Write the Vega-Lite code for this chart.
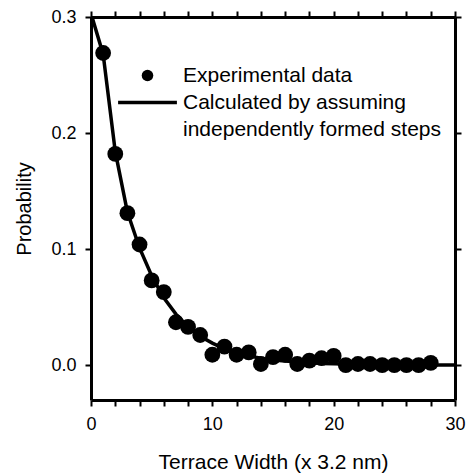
{
  "$schema": "https://vega.github.io/schema/vega-lite/v6.json",
  "width": 364,
  "height": 383,
  "autosize": {"type": "none"},
  "padding": {"left": 91, "top": 17, "right": 11, "bottom": 76},
  "config": {
    "font": "Liberation Sans",
    "view": {"stroke": null},
    "axis": {
      "domainColor": "black",
      "domainWidth": 3,
      "tickColor": "black",
      "tickWidth": 2,
      "tickSize": 6,
      "labelColor": "black",
      "titleColor": "black",
      "grid": false,
      "labelFontSize": 18,
      "titleFontSize": 21,
      "titleFontWeight": "normal"
    }
  },
  "datasets": {
    "exp": [
      {"width": 1, "probability": 0.269, "series": "Experimental data"},
      {"width": 2, "probability": 0.182, "series": "Experimental data"},
      {"width": 3, "probability": 0.131, "series": "Experimental data"},
      {"width": 4, "probability": 0.104, "series": "Experimental data"},
      {"width": 5, "probability": 0.073, "series": "Experimental data"},
      {"width": 6, "probability": 0.063, "series": "Experimental data"},
      {"width": 7, "probability": 0.037, "series": "Experimental data"},
      {"width": 8, "probability": 0.033, "series": "Experimental data"},
      {"width": 9, "probability": 0.026, "series": "Experimental data"},
      {"width": 10, "probability": 0.009, "series": "Experimental data"},
      {"width": 11, "probability": 0.016, "series": "Experimental data"},
      {"width": 12, "probability": 0.009, "series": "Experimental data"},
      {"width": 13, "probability": 0.011, "series": "Experimental data"},
      {"width": 14, "probability": 0.001, "series": "Experimental data"},
      {"width": 15, "probability": 0.007, "series": "Experimental data"},
      {"width": 16, "probability": 0.009, "series": "Experimental data"},
      {"width": 17, "probability": 0.001, "series": "Experimental data"},
      {"width": 18, "probability": 0.004, "series": "Experimental data"},
      {"width": 19, "probability": 0.006, "series": "Experimental data"},
      {"width": 20, "probability": 0.008, "series": "Experimental data"},
      {"width": 21, "probability": 0.0, "series": "Experimental data"},
      {"width": 22, "probability": 0.001, "series": "Experimental data"},
      {"width": 23, "probability": 0.001, "series": "Experimental data"},
      {"width": 24, "probability": 0.0, "series": "Experimental data"},
      {"width": 25, "probability": 0.0, "series": "Experimental data"},
      {"width": 26, "probability": 0.0, "series": "Experimental data"},
      {"width": 27, "probability": 0.0, "series": "Experimental data"},
      {"width": 28, "probability": 0.002, "series": "Experimental data"}
    ],
    "calc": [
      {"width": 0, "probability": 0.303},
      {"width": 1, "probability": 0.268},
      {"width": 2, "probability": 0.184},
      {"width": 3, "probability": 0.132},
      {"width": 4, "probability": 0.101},
      {"width": 5, "probability": 0.077},
      {"width": 6, "probability": 0.058},
      {"width": 7, "probability": 0.044},
      {"width": 8, "probability": 0.033},
      {"width": 9, "probability": 0.025},
      {"width": 10, "probability": 0.019},
      {"width": 11, "probability": 0.014},
      {"width": 12, "probability": 0.011},
      {"width": 13, "probability": 0.008},
      {"width": 14, "probability": 0.006},
      {"width": 15, "probability": 0.0045},
      {"width": 16, "probability": 0.0035},
      {"width": 17, "probability": 0.0027},
      {"width": 18, "probability": 0.002},
      {"width": 19, "probability": 0.0015},
      {"width": 20, "probability": 0.0012},
      {"width": 21, "probability": 0.001},
      {"width": 22, "probability": 0.0008},
      {"width": 23, "probability": 0.0006},
      {"width": 24, "probability": 0.0005},
      {"width": 25, "probability": 0.0004},
      {"width": 26, "probability": 0.0003},
      {"width": 27, "probability": 0.0002},
      {"width": 28, "probability": 0.0002},
      {"width": 29, "probability": 0.0001},
      {"width": 30, "probability": 0.0001}
    ]
  },
  "layer": [
    {
      "data": {"name": "exp"},
      "mark": {"type": "point", "filled": true, "color": "black", "opacity": 1, "size": 250},
      "encoding": {
        "x": {
          "field": "width", "type": "quantitative",
          "scale": {"domain": [0, 30], "nice": false},
          "axis": {
            "title": "Terrace Width (x 3.2 nm)",
            "values": [0, 2, 4, 6, 8, 10, 12, 14, 16, 18, 20, 22, 24, 26, 28, 30],
            "labelExpr": "datum.value % 10 === 0 ? datum.label : ''",
            "labelFlush": false,
            "labelPadding": 9,
            "titlePadding": 18,
            "domainWidth": 3, "tickWidth": 2, "tickSize": 6, "ticks": true, "domainColor": "black", "tickColor": "black"
          }
        },
        "y": {
          "field": "probability", "type": "quantitative",
          "scale": {"domain": [-0.03, 0.3], "nice": false, "zero": false},
          "axis": {
            "title": "Probability",
            "titleFontSize": 20,
            "values": [0, 0.1, 0.2, 0.3],
            "format": ".1f",
            "labelPadding": 9,
            "titlePadding": 16,
            "domainWidth": 3, "tickWidth": 2, "tickSize": 6, "ticks": true, "domainColor": "black", "tickColor": "black"
          }
        },
        "shape": {
          "field": "series", "type": "nominal",
          "scale": {
            "domain": ["Experimental data", "Calculated by assuming", "independently formed steps"],
            "range": ["circle", "M-5.1,-0.3H5.1V0.3H-5.1Z", "M0,0Z"]
          },
          "legend": {
            "orient": "none",
            "legendX": 46,
            "legendY": 48,
            "title": null,
            "padding": 0,
            "labelFontSize": 21,
            "labelColor": "black",
            "labelLimit": 400,
            "symbolSize": 133,
            "symbolFillColor": "black",
            "symbolStrokeWidth": 0,
            "symbolOpacity": 1,
            "symbolOffset": 0,
            "labelOffset": 25,
            "rowPadding": 5
          }
        }
      }
    },
    {
      "data": {"name": "calc"},
      "mark": {"type": "line", "color": "black", "strokeWidth": 3.5, "clip": true},
      "encoding": {
        "x": {
          "field": "width", "type": "quantitative",
          "axis": {
            "title": null, "labels": false,
            "values": [0, 2, 4, 6, 8, 10, 12, 14, 16, 18, 20, 22, 24, 26, 28, 30],
            "domainWidth": 3, "tickWidth": 2, "tickSize": 6, "ticks": true, "domainColor": "black", "tickColor": "black"
          }
        },
        "y": {
          "field": "probability", "type": "quantitative",
          "axis": {
            "title": null, "labels": false,
            "values": [0, 0.1, 0.2, 0.3],
            "domainWidth": 3, "tickWidth": 2, "tickSize": 6, "ticks": true, "domainColor": "black", "tickColor": "black"
          }
        }
      }
    }
  ],
  "resolve": {"axis": {"x": "independent", "y": "independent"}}
}
